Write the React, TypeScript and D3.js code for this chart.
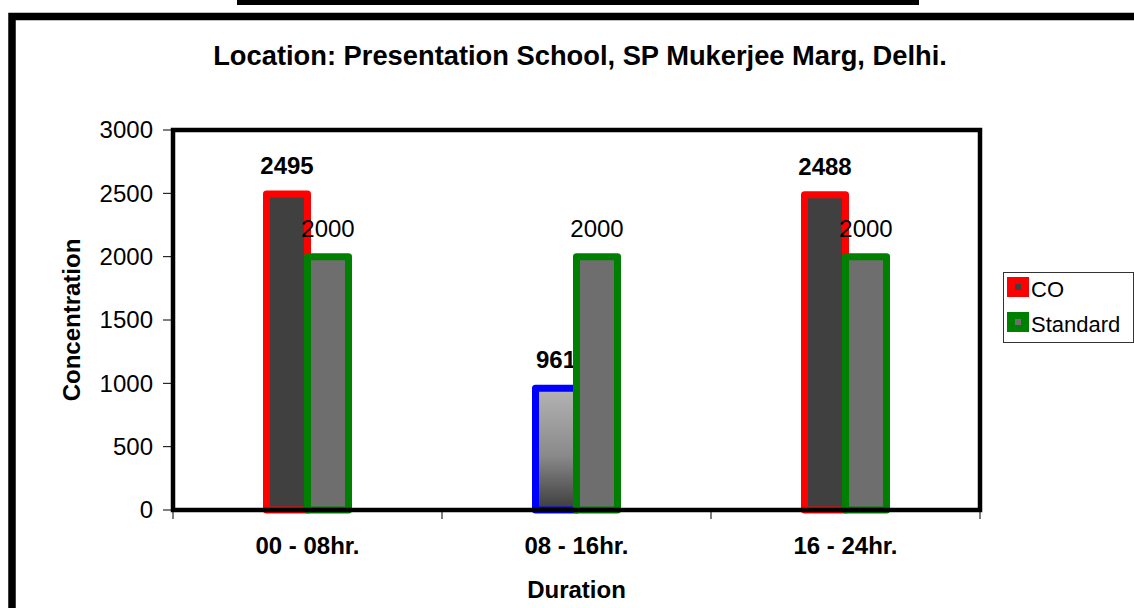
import * as d3 from 'd3';
import * as React from 'react';

const { useRef, useEffect } = React;

const width = 1134;
const height = 608;
const plot = { left: 173, right: 980, top: 130, bottom: 510 };

const categories = ['00 - 08hr.', '08 - 16hr.', '16 - 24hr.'];
const coValues = [2495, 961, 2488];
const standardValues = [2000, 2000, 2000];
const yTicks = [0, 500, 1000, 1500, 2000, 2500, 3000];
const legendLabels = ['CO', 'Standard'];

const font = '"Liberation Sans", Arial, sans-serif';

// per-point overrides (the middle CO bar is drawn differently)
const coPointStyle: Record<number, { stroke: string; fill: string }> = {
  1: { stroke: '#0000ff', fill: 'url(#coGrad)' },
};

export default () => {
  const rootRef = useRef<SVGSVGElement>(null);

  useEffect(() => {
    const svgEl = rootRef.current;
    if (!svgEl) {
      return;
    }

    const svg = d3.select(svgEl);
    svg.selectAll('*').remove();

    const defs = svg.append('defs');
    const grad = defs
      .append('linearGradient')
      .attr('id', 'coGrad')
      .attr('x1', 0)
      .attr('y1', 0)
      .attr('x2', 0)
      .attr('y2', 1);
    grad.append('stop').attr('offset', '0%').attr('stop-color', '#b4b4b4');
    grad.append('stop').attr('offset', '55%').attr('stop-color', '#8a8a8a');
    grad.append('stop').attr('offset', '100%').attr('stop-color', '#3c3c3c');

    // top underline (cut off heading) and outer frame
    svg
      .append('rect')
      .attr('x', 237)
      .attr('y', 0)
      .attr('width', 682)
      .attr('height', 5)
      .attr('fill', '#000');

    svg
      .append('rect')
      .attr('x', 12)
      .attr('y', 16.5)
      .attr('width', 1200)
      .attr('height', 700)
      .attr('fill', '#fff')
      .attr('stroke', '#000')
      .attr('stroke-width', 7.5);

    svg
      .append('text')
      .attr('x', 580)
      .attr('y', 65)
      .attr('text-anchor', 'middle')
      .style('font', `bold 27.3px ${font}`)
      .text('Location: Presentation School, SP Mukerjee Marg, Delhi.');

    const x = d3
      .scaleBand()
      .domain(categories)
      .range([plot.left, plot.right])
      .padding(0);

    const y = d3
      .scaleLinear()
      .domain([0, 3000])
      .range([plot.bottom, plot.top]);

    const barW = 41;

    // y axis ticks + labels
    const yAxis = svg.append('g');
    yAxis
      .selectAll('line')
      .data(yTicks)
      .join('line')
      .attr('x1', plot.left - 10)
      .attr('x2', plot.left)
      .attr('y1', d => y(d))
      .attr('y2', d => y(d))
      .attr('stroke', '#000')
      .attr('stroke-width', 1);
    yAxis
      .selectAll('text')
      .data(yTicks)
      .join('text')
      .attr('x', plot.left - 20)
      .attr('y', d => y(d))
      .attr('dy', '0.35em')
      .attr('text-anchor', 'end')
      .style('font', `24px ${font}`)
      .text(d => d);

    // x ticks at band boundaries
    const xTicks = categories.map(c => x(c) as number).concat([plot.right]);
    svg
      .append('g')
      .selectAll('line')
      .data(xTicks)
      .join('line')
      .attr('x1', d => d)
      .attr('x2', d => d)
      .attr('y1', plot.bottom)
      .attr('y2', plot.bottom + 9)
      .attr('stroke', '#000')
      .attr('stroke-width', 1);

    svg
      .append('g')
      .selectAll('text')
      .data(categories)
      .join('text')
      .attr('x', d => (x(d) as number) + x.bandwidth() / 2)
      .attr('y', 554)
      .attr('text-anchor', 'middle')
      .style('font', `bold 24px ${font}`)
      .text(d => d);

    svg
      .append('text')
      .attr('x', (plot.left + plot.right) / 2)
      .attr('y', 598)
      .attr('text-anchor', 'middle')
      .style('font', `bold 24px ${font}`)
      .text('Duration');

    svg
      .append('text')
      .attr('transform', `translate(80,${(plot.top + plot.bottom) / 2}) rotate(-90)`)
      .attr('text-anchor', 'middle')
      .style('font', `bold 24px ${font}`)
      .text('Concentration');

    const center = (i: number) => (x(categories[i]) as number) + x.bandwidth() / 2;

    // CO bars
    svg
      .append('g')
      .selectAll('rect')
      .data(coValues)
      .join('rect')
      .attr('x', (d, i) => center(i) - barW)
      .attr('y', d => y(d))
      .attr('width', barW)
      .attr('height', d => plot.bottom - y(d))
      .attr('fill', (d, i) => (coPointStyle[i] ? coPointStyle[i].fill : '#404040'))
      .attr('stroke', (d, i) => (coPointStyle[i] ? coPointStyle[i].stroke : '#ff0000'))
      .attr('stroke-width', 7)
      .attr('stroke-linejoin', 'round');

    svg
      .append('g')
      .selectAll('text')
      .data(coValues)
      .join('text')
      .attr('x', (d, i) => center(i) - barW / 2)
      .attr('y', d => y(d) - 20)
      .attr('text-anchor', 'middle')
      .style('font', `bold 24px ${font}`)
      .text(d => d);

    // Standard bars
    svg
      .append('g')
      .selectAll('rect')
      .data(standardValues)
      .join('rect')
      .attr('x', (d, i) => center(i))
      .attr('y', d => y(d))
      .attr('width', barW)
      .attr('height', d => plot.bottom - y(d))
      .attr('fill', '#6e6e6e')
      .attr('stroke', '#008000')
      .attr('stroke-width', 7)
      .attr('stroke-linejoin', 'round');

    svg
      .append('g')
      .selectAll('text')
      .data(standardValues)
      .join('text')
      .attr('x', (d, i) => center(i) + barW / 2)
      .attr('y', d => y(d) - 20)
      .attr('text-anchor', 'middle')
      .style('font', `24px ${font}`)
      .text(d => d);

    // plot frame
    svg
      .append('rect')
      .attr('x', plot.left)
      .attr('y', plot.top)
      .attr('width', plot.right - plot.left)
      .attr('height', plot.bottom - plot.top)
      .attr('fill', 'none')
      .attr('stroke', '#000')
      .attr('stroke-width', 4.5);

    // legend
    const legend = svg.append('g').attr('transform', 'translate(1003,272)');
    legend
      .append('rect')
      .attr('x', 0.5)
      .attr('y', 0.5)
      .attr('width', 130)
      .attr('height', 70)
      .attr('fill', '#fff')
      .attr('stroke', '#333')
      .attr('stroke-width', 1);

    const swatchColors = [
      { outer: '#ff0000', inner: '#404040' },
      { outer: '#008000', inner: '#6e6e6e' },
    ];
    const item = legend
      .selectAll('g.item')
      .data(legendLabels)
      .join('g')
      .attr('class', 'item')
      .attr('transform', (d, i) => `translate(4,${5 + i * 35})`);
    item
      .append('rect')
      .attr('width', 22)
      .attr('height', 20)
      .attr('fill', (d, i) => swatchColors[i].outer);
    item
      .append('rect')
      .attr('x', 8)
      .attr('y', 7)
      .attr('width', 6)
      .attr('height', 6)
      .attr('fill', (d, i) => swatchColors[i].inner);
    item
      .append('text')
      .attr('x', 24)
      .attr('y', 20)
      .style('font', `22px ${font}`)
      .text(d => d);
  }, []);

  return (
    <svg
      ref={rootRef}
      width={width}
      height={height}
      style={{ position: 'absolute', left: 0, top: 0, background: '#fff' }}
    />
  );
};
